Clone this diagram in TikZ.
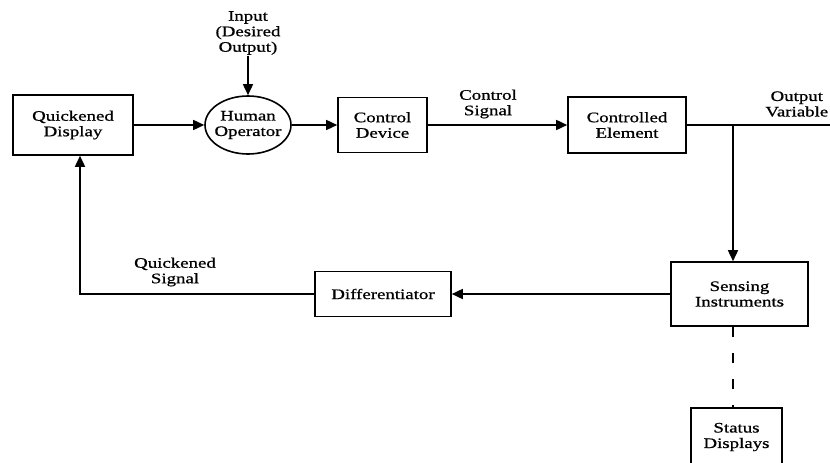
\documentclass[tikz,border=0pt]{standalone}
\usepackage{fontspec}
\setmainfont{Liberation Serif}[FakeStretch=1.3, FakeBold=0.8]
\usetikzlibrary{arrows.meta}
\usetikzlibrary{shapes.geometric}

\begin{document}
\begin{tikzpicture} [x=1pt, y=-1pt, line width=1.6pt,
  block/.style={draw, rectangle, align=center, inner sep=0pt},
  lbl/.style={align=center, inner sep=0pt},
  arr/.style={-{Triangle[length=11pt,width=10pt]}},
  font=\fontsize{14.5}{15.5}\selectfont]
\useasboundingbox (0,0) rectangle (830,463);
% blocks
\node[block, minimum width=120, minimum height=60] (qdisp) at (73,125) {Quickened\\Display};
\node[draw, ellipse, align=center, inner xsep=-5pt, inner ysep=-1pt, minimum width=86, minimum height=58] (human) at (248,125) {Human\\Operator};
\node[block, minimum width=89, minimum height=55] (cdev) at (382.5,125) {Control\\Device};
\node[block, minimum width=118, minimum height=56] (celem) at (627,125) {Controlled\\Element};
\node[block, minimum width=137, minimum height=64] (sens) at (739.5,294) {Sensing\\Instruments};
\node[block, minimum width=136, minimum height=45] (diff) at (383,294) {Differentiator};
\node[block, minimum width=91, minimum height=58] (stat) at (736.5,437) {Status\\Displays};
% labels
\node[lbl] (input) at (248,33) {Input\\(Desired\\Output)};
\node[lbl] (csig) at (488,104) {Control\\Signal};
\node[lbl, anchor=east] (ovar) at (829,104) {Output\\Variable};
\node[lbl] (qsig) at (175,272) {Quickened\\Signal};
% connectors
\coordinate (out) at (830,125);
\coordinate (tap) at (733,125);
\coordinate (fb) at (80,294);
\draw[arr] (input) -- (human);
\draw[arr] (qdisp) -- (human);
\draw[arr] (human) -- (cdev);
\draw[arr] (cdev) -- (celem);
\draw (celem.east) -- (out);
\draw[arr] (tap) -- (tap |- sens.north);
\draw[arr] (sens.west) -- (diff.east);
\draw[arr] (diff.west) -- (fb) -- (fb |- qdisp.south);
\draw[dash pattern=on 10pt off 16pt] (tap |- sens.south) -- (tap |- stat.north);
\end{tikzpicture}
\end{document}
